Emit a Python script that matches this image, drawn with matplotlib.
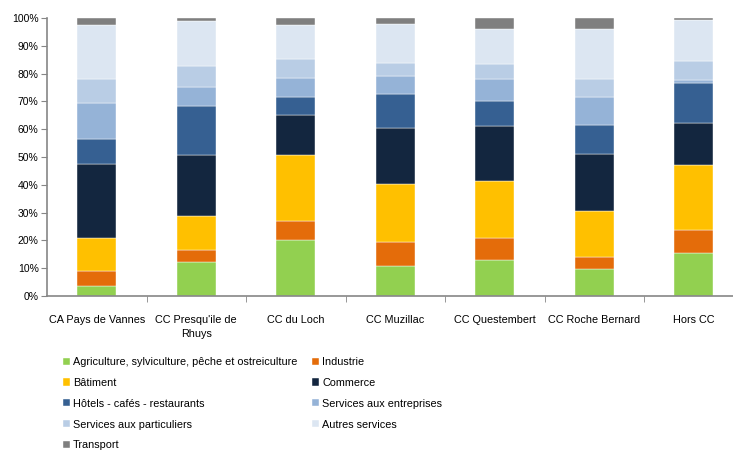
import numpy as np
import matplotlib
matplotlib.use("Agg")
import matplotlib.pyplot as plt
from matplotlib.ticker import PercentFormatter

plt.rcParams['font.family'] = ['Liberation Sans', 'DejaVu Sans']

# Territories (x categories)
territoires = ['CA Pays de Vannes', "CC Presqu'ile de\nRhuys", 'CC du Loch',
               'CC Muzillac', 'CC Questembert', 'CC Roche Bernard', 'Hors CC']

# Shares per sector (%)
agriculture  = [3.7, 12.4, 20.2, 10.8, 13.0, 9.7, 15.4]
industrie    = [5.4, 4.3, 6.9, 8.8, 8.0, 4.2, 8.5]
batiment     = [11.9, 11.9, 23.5, 20.6, 20.2, 16.8, 23.4]
commerce     = [26.4, 22.0, 14.5, 20.2, 19.8, 20.5, 14.9]
hotels       = [8.9, 17.6, 6.6, 12.3, 9.0, 10.4, 14.5]
serv_entr    = [13.3, 7.1, 6.6, 6.3, 7.9, 9.9, 1.1]
serv_part    = [8.3, 7.6, 7.0, 4.8, 5.4, 6.6, 6.9]
autres_serv  = [19.6, 16.2, 12.2, 14.0, 12.7, 17.9, 14.6]
transport    = [2.5, 0.9, 2.5, 2.2, 4.0, 4.0, 0.7]

secteurs = ['Agriculture, sylviculture, pêche et ostreiculture', 'Industrie',
            'Bâtiment', 'Commerce', 'Hôtels - cafés - restaurants',
            'Services aux entreprises', 'Services aux particuliers',
            'Autres services', 'Transport']
series = [agriculture, industrie, batiment, commerce, hotels,
          serv_entr, serv_part, autres_serv, transport]
couleurs = ['#92D050', '#E46C0A', '#FFC000', '#13263F', '#366092',
            '#95B3D7', '#B9CDE5', '#DCE6F2', '#7F7F7F']

fig = plt.figure(figsize=(7.33, 4.5), dpi=100)
ax = fig.add_axes([47/733, 1 - 296/450, 696.5/733, 278/450])

x = np.arange(len(territoires))
bottom = np.zeros(len(territoires))
bars = []
for vals, lab, col in zip(series, secteurs, couleurs):
    b = ax.bar(x, vals, bottom=bottom, width=0.39, color=col, label=lab,
               edgecolor='white', linewidth=0.3)
    bars.append(b)
    bottom += np.array(vals)

ax.set_xlim(-0.5, len(territoires) - 0.5)
ax.set_ylim(0, 100)
ax.set_yticks(np.arange(0, 101, 10))
ax.yaxis.set_major_formatter(PercentFormatter(decimals=0))
ax.set_xticks(x)
ax.set_xticklabels(territoires, fontsize=7.8, linespacing=1.45)
ax.set_xticks(np.arange(0.5, len(territoires) - 0.5, 1), minor=True)
ax.tick_params(axis='x', which='major', length=0, pad=14)
ax.tick_params(axis='x', which='minor', length=4, color='#868686')
ax.tick_params(axis='y', length=4, color='#868686', labelsize=7.5, pad=2)

for s in ['top', 'right']:
    ax.spines[s].set_visible(False)
for s in ['left', 'bottom']:
    ax.spines[s].set_color('#868686')
    ax.spines[s].set_linewidth(1.2)

# legend: two columns, filled row-wise like the original
order = [0, 2, 4, 6, 8, 1, 3, 5, 7]
leg = fig.legend([bars[i] for i in order], [secteurs[i] for i in order],
                 ncol=2, loc='upper left', bbox_to_anchor=(63/733, 1 - 357/450),
                 frameon=False, fontsize=7.8, handlelength=0.65, handleheight=0.65,
                 handletextpad=0.25, columnspacing=1.4, labelspacing=1.0,
                 borderaxespad=0, borderpad=0)

fig.savefig('out.png', dpi=100)
